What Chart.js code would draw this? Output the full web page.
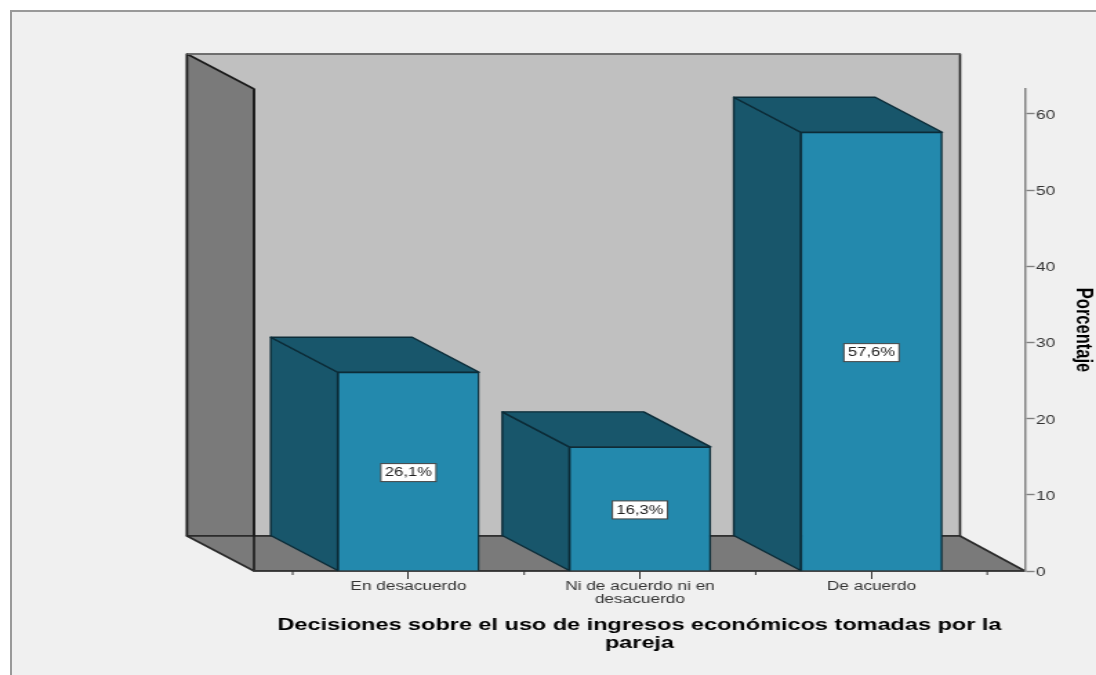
<!DOCTYPE html>
<html>
<head>
<meta charset="utf-8">
<title>Decisiones sobre el uso de ingresos económicos</title>
<script src="https://cdn.jsdelivr.net/npm/chart.js@4"></script>
<style>
    html, body { margin: 0; background: #fff; overflow: hidden; }
    #panel { position: absolute; left: 10px; top: 10px; width: 1086px; height: 665px; box-sizing: border-box;
             background: #f0f0f0; border-left: 2px solid #999; border-top: 2px solid #999; }
    /* the reference is a picture stretched sideways, so the whole canvas is stretched too */
    #chart { position: absolute; left: 0; top: 0; transform: scaleX(1.3804); transform-origin: 0 0; }
</style>
</head>
<body>
<div id="panel"></div>
<canvas id="chart" width="794" height="675"></canvas>
<script>
const categories = ['En desacuerdo', ['Ni de acuerdo ni en', 'desacuerdo'], 'De acuerdo'];
const percentages = [26.1, 16.3, 57.6];
const yTicksStep = 10;
const xTitle = ['Decisiones sobre el uso de ingresos económicos tomadas por la', 'pareja'];
const yTitle = 'Porcentaje';

const DEPTH_X = 48.5;   // depth of the fake 3D box, canvas px
const DEPTH_Y = 35;

function poly(ctx, points, fill, stroke, width) {
    ctx.beginPath();
    points.forEach((p, i) => i ? ctx.lineTo(p[0], p[1]) : ctx.moveTo(p[0], p[1]));
    ctx.closePath();
    ctx.fillStyle = fill;
    ctx.fill();
    ctx.strokeStyle = stroke;
    ctx.lineWidth = width;
    ctx.lineJoin = 'round';
    ctx.stroke();
}

const box3d = {
    id: 'box3d',
    // back wall, left wall and floor
    beforeDraw(chart) {
        const ctx = chart.ctx;
        const { left, right, top, bottom } = chart.chartArea;
        const backLeft = left - DEPTH_X, backRight = right - 47;
        const backTop = top - DEPTH_Y, backBottom = bottom - DEPTH_Y;
        ctx.save();
        poly(ctx, [[backLeft, backTop], [backRight, backTop], [backRight, backBottom], [backLeft, backBottom]], '#c0c0c0', '#222', 1.6);
        poly(ctx, [[backLeft, backTop], [left, top], [left, backBottom], [backLeft, backBottom]], '#7a7a7a', '#1a1a1a', 1.6);
        poly(ctx, [[backLeft, backBottom], [backRight, backBottom], [right, bottom], [left, bottom]], '#7a7a7a', '#2a2a2a', 1.6);
        ctx.strokeStyle = '#1a1a1a';
        ctx.beginPath();
        ctx.moveTo(left, top);
        ctx.lineTo(left, bottom);
        ctx.stroke();
        ctx.strokeStyle = '#7a7a7a';
        ctx.lineWidth = 1.6;
        ctx.beginPath();
        ctx.moveTo(backLeft, backTop);
        ctx.lineTo(backRight, backTop);
        ctx.stroke();
        ctx.restore();
    },
    // side and top faces of the bars
    beforeDatasetsDraw(chart) {
        const ctx = chart.ctx;
        ctx.save();
        chart.getDatasetMeta(0).data.forEach(bar => {
            const l = bar.x - bar.width / 2, r = bar.x + bar.width / 2;
            poly(ctx, [[l - DEPTH_X, bar.y - DEPTH_Y], [l, bar.y], [l, bar.base], [l - DEPTH_X, bar.base - DEPTH_Y]], '#18566b', '#0c2c38', 1.4);
            poly(ctx, [[l - DEPTH_X, bar.y - DEPTH_Y], [r - DEPTH_X, bar.y - DEPTH_Y], [r, bar.y], [l, bar.y]], '#18566b', '#0c2c38', 1.4);
        });
        ctx.restore();
    },
    afterDatasetsDraw(chart) {
        const ctx = chart.ctx;
        const yScale = chart.scales.y;
        ctx.save();
        ctx.font = '12px "Liberation Sans"';
        ctx.textAlign = 'center';
        ctx.textBaseline = 'middle';
        chart.getDatasetMeta(0).data.forEach((bar, i) => {
            const y = yScale.getPixelForValue(percentages[i] / 2) + 1;
            ctx.fillStyle = '#fff';
            ctx.strokeStyle = '#444';
            ctx.lineWidth = 1;
            ctx.fillRect(bar.x - 20, y - 9, 40, 18);
            ctx.strokeRect(bar.x - 20, y - 9, 40, 18);
            ctx.fillStyle = '#222';
            ctx.fillText(percentages[i].toFixed(1).replace('.', ',') + '%', bar.x, y + 0.5);
        });
        // short ticks halfway between the categories
        const xScale = chart.scales.x;
        ctx.strokeStyle = '#333';
        ctx.lineWidth = 1;
        ctx.beginPath();
        categories.concat(['']).forEach((c, i) => {
            const x = xScale.getPixelForValue(i - 0.5);
            ctx.moveTo(x, chart.chartArea.bottom);
            ctx.lineTo(x, chart.chartArea.bottom + 4);
        });
        ctx.stroke();
        ctx.restore();
    }
};

new Chart(document.getElementById('chart'), {
    type: 'bar',
    data: {
        datasets: [{
            data: categories.map((c, i) => ({ x: i, y: percentages[i] })),
            backgroundColor: '#2389ad',
            borderColor: '#0c2c38',
            borderWidth: 1.4,
            barThickness: 102.5
        }]
    },
    options: {
        responsive: false,
        animation: false,
        layout: { padding: { left: 184, top: 89 } },
        plugins: { legend: { display: false }, tooltip: { enabled: false } },
        scales: {
            x: {
                type: 'linear',
                offset: false,
                bounds: 'data',
                min: -0.667,
                max: 2.663,
                afterBuildTicks: scale => { scale.ticks = categories.map((c, i) => ({ value: i })); },
                afterFit: scale => { scale.height = 104; },
                grid: { offset: false, drawOnChartArea: false, tickLength: 8, tickColor: '#333', tickWidth: 1 },
                border: { color: '#333', width: 1.4 },
                ticks: {
                    autoSkip: false,
                    maxRotation: 0,
                    padding: 1,
                    color: '#333',
                    font: { family: '"Liberation Sans"', size: 12.5, lineHeight: 1.04 },
                    callback: value => categories[value]
                },
                title: {
                    display: true,
                    text: xTitle,
                    color: '#000',
                    padding: { top: 0, bottom: 23 },
                    font: { family: '"Liberation Sans"', size: 17, weight: 'bold', lineHeight: 1.03 }
                }
            },
            y: {
                position: 'right',
                bounds: 'data',
                min: 0,
                max: 63.28,
                afterFit: scale => { scale.width = 794 - 742.5; },
                grid: { drawOnChartArea: false, tickLength: 7, tickColor: '#808080', tickWidth: 1.4 },
                border: { color: '#808080', width: 1.5 },
                ticks: {
                    stepSize: yTicksStep,
                    includeBounds: false,
                    padding: 1,
                    labelOffset: 1.5,
                    color: '#333',
                    font: { family: '"Liberation Sans"', size: 12.5 }
                },
                title: {
                    display: true,
                    text: yTitle,
                    color: '#000',
                    padding: { top: 0, bottom: 4 },
                    font: { family: '"Liberation Sans"', size: 16.5, weight: 'bold' }
                }
            }
        }
    },
    plugins: [box3d]
});
</script>
</body>
</html>
